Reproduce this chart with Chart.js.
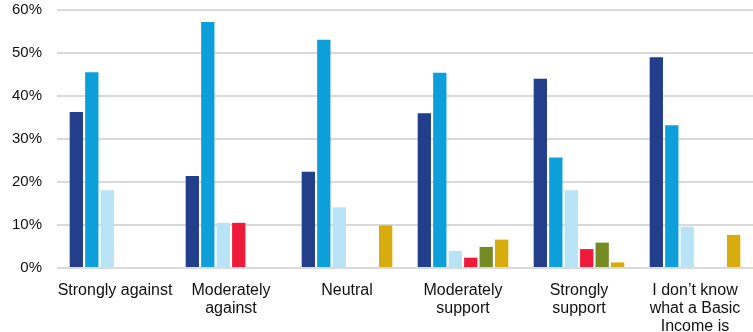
<!DOCTYPE html>
<html>
<head>
<meta charset="utf-8">
<script src="https://cdn.jsdelivr.net/npm/chart.js@4/dist/chart.umd.min.js"></script>
<style>
  html, body { margin: 0; padding: 0; background: #fff; }
  #wrap { width: 753px; height: 332px; position: relative; }
</style>
</head>
<body>
<div id="wrap"><canvas id="c"></canvas></div>
<script>
// Attitude categories (multi-line labels as drawn under the axis)
const categories = [
  "Strongly against",
  ["Moderately", "against"],
  "Neutral",
  ["Moderately", "support"],
  ["Strongly", "support"],
  ["I don\u2019t know", "what a Basic", "Income is"]
];

// Share of respondents (%) per group, one array per series
const series1 = [36.3, 21.4, 22.4, 36.0, 44.0, 49.0];
const series2 = [45.5, 57.2, 53.1, 45.4, 25.7, 33.2];
const series3 = [18.1, 10.5, 14.1, 4.0, 18.1, 9.6];
const series4 = [null, 10.5, null, 2.4, 4.4, null];
const series5 = [null, null, null, 4.9, 5.9, null];
const series6 = [null, null, 9.9, 6.6, 1.3, 7.7];

const yTicks = [0, 10, 20, 30, 40, 50, 60];

const colors = ["#233f8c", "#0d9fda", "#b8e3f4", "#ed1b39", "#758c25", "#d8ac0d"];
const allSeries = [series1, series2, series3, series4, series5, series6];

const family = "'Liberation Sans', Arial, sans-serif";

new Chart(document.getElementById("c"), {
  type: "bar",
  data: {
    labels: categories,
    datasets: allSeries.map((d, i) => ({
      label: "Series " + (i + 1),
      data: d,
      backgroundColor: colors[i],
      borderWidth: 0,
      categoryPercentage: 0.8,
      barPercentage: 0.86
    }))
  },
  options: {
    responsive: true,
    maintainAspectRatio: false,
    animation: false,
    layout: { padding: 0 },
    plugins: { legend: { display: false }, tooltip: { enabled: false } },
    scales: {
      x: {
        grid: { display: false },
        border: { display: false },
        ticks: {
          color: "#111",
          font: { family: family, size: 16, lineHeight: 1.15 },
          padding: 5,
          maxRotation: 0,
          autoSkip: false
        },
        afterFit: s => { s.height = 64; }
      },
      y: {
        min: 0,
        max: 60,
        afterBuildTicks: s => { s.ticks = yTicks.map(v => ({ value: v })); },
        grid: { color: "#d9d9d9", lineWidth: 2, drawTicks: false },
        border: { display: false },
        ticks: {
          color: "#111",
          font: { family: family, size: 15 },
          padding: 15,
          callback: v => v + "%"
        },
        afterFit: s => {
          s.width = 57;
          s.paddingTop = 10;
          s.paddingBottom = 0;
        }
      }
    }
  }
});
</script>
</body>
</html>
